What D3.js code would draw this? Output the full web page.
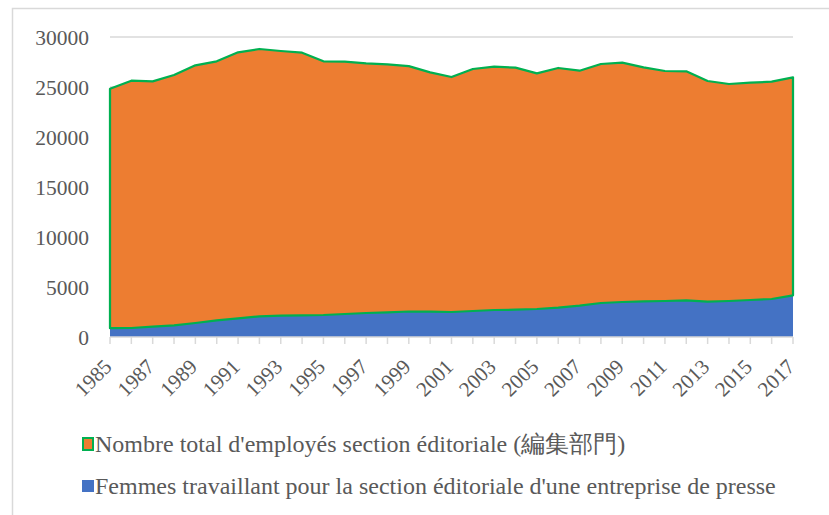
<!DOCTYPE html>
<html lang="fr">
  <head>
    <meta charset="utf-8">
    <title>Employés section éditoriale</title>
    <style>
      body {
        margin: 0;
        background: #fff;
      }
    </style>
  </head>
  <body>
    <svg id="chart" width="829" height="515" font-family="'Liberation Serif', 'Times New Roman', serif"></svg>

    <script src="https://d3js.org/d3.v7.min.js"></script>
    <script>
      // years 1985..2017
      const years = [1985, 1986, 1987, 1988, 1989, 1990, 1991, 1992, 1993, 1994, 1995,
        1996, 1997, 1998, 1999, 2000, 2001, 2002, 2003, 2004, 2005, 2006,
        2007, 2008, 2009, 2010, 2011, 2012, 2013, 2014, 2015, 2016, 2017];

      // total editorial staff
      const totalStaff = [24830, 25630, 25570, 26200, 27170, 27570, 28470, 28800, 28600, 28430, 27570,
        27530, 27370, 27270, 27080, 26470, 26000, 26800, 27030, 26930, 26370, 26900,
        26630, 27300, 27430, 26970, 26600, 26570, 25600, 25300, 25430, 25530, 25970];

      // women in editorial section
      const womenStaff = [880, 900, 1030, 1170, 1400, 1670, 1870, 2070, 2130, 2170, 2200,
        2300, 2400, 2470, 2550, 2530, 2500, 2600, 2700, 2730, 2800, 2930,
        3130, 3400, 3500, 3570, 3600, 3670, 3530, 3600, 3700, 3800, 4170];

      const yTicks = [0, 5000, 10000, 15000, 20000, 25000, 30000];
      const xTicks = years.filter((y, i) => i % 2 === 0);

      const legendLabels = [
        "Nombre total d'employés section éditoriale (編集部門)",
        "Femmes travaillant pour la section éditoriale d'une entreprise de presse"
      ];

      const orange = "#ed7d31", blue = "#4472c4", green = "#00b050", grid = "#d9d9d9", ink = "#595959";

      const svg = d3.select("#chart");

      // chart frame (only top and left edges visible)
      svg.append("rect")
        .attr("x", 12.5).attr("y", 8.5)
        .attr("width", 900).attr("height", 600)
        .attr("fill", "none").attr("stroke", grid).attr("stroke-width", 1.5);

      const x = d3.scaleLinear().domain([1985, 2017]).range([110, 793]);
      const y = d3.scaleLinear().domain([0, 30000]).range([337, 37]);

      const data = years.map((yr, i) => ({year: yr, total: totalStaff[i], women: womenStaff[i]}));

      // gridlines
      svg.append("g")
        .selectAll("line").data(yTicks.filter(t => t > 0)).enter().append("line")
        .attr("x1", x(1985)).attr("x2", x(2017))
        .attr("y1", d => y(d)).attr("y2", d => y(d))
        .attr("stroke", grid).attr("stroke-width", 1.5);

      // women area
      const womenArea = d3.area().x(d => x(d.year)).y0(y(0)).y1(d => y(d.women));
      svg.append("path").datum(data)
        .attr("d", womenArea)
        .attr("fill", blue);

      // total area, sitting on the women area
      const totalArea = d3.area().x(d => x(d.year)).y0(d => y(d.women)).y1(d => y(d.total));
      svg.append("path").datum(data)
        .attr("d", totalArea)
        .attr("fill", orange)
        .attr("stroke", green).attr("stroke-width", 2.25)
        .attr("stroke-linejoin", "round");

      // y axis labels
      svg.append("g")
        .selectAll("text").data(yTicks).enter().append("text")
        .attr("x", 89).attr("y", d => y(d))
        .attr("dy", "0.35em")
        .attr("text-anchor", "end")
        .attr("fill", ink)
        .style("font-size", "21.5px")
        .text(d => d);

      // x axis
      const xAxis = svg.append("g").attr("transform", `translate(0,${y(0)})`);
      xAxis.append("line")
        .attr("x1", x(1985)).attr("x2", x(2017))
        .attr("stroke", grid).attr("stroke-width", 1.5);
      xAxis.selectAll(".tick").data(years).enter().append("line")
        .attr("x1", d => x(d)).attr("x2", d => x(d))
        .attr("y1", 0).attr("y2", 7)
        .attr("stroke", grid).attr("stroke-width", 1.5);
      xAxis.selectAll("text").data(xTicks).enter().append("text")
        .attr("transform", d => `translate(${x(d) + 3},${31}) rotate(-45)`)
        .attr("text-anchor", "end")
        .attr("fill", ink)
        .style("font-size", "21px")
        .text(d => d);

      // legend
      const legend = svg.append("g");
      legend.append("rect")
        .attr("x", 83).attr("y", 438).attr("width", 10).attr("height", 12)
        .attr("fill", orange).attr("stroke", green).attr("stroke-width", 2);
      legend.append("rect")
        .attr("x", 82).attr("y", 480).attr("width", 12).attr("height", 12)
        .attr("fill", blue);
      legend.selectAll("text").data(legendLabels).enter().append("text")
        .attr("x", 95).attr("y", (d, i) => 452 + i * 42)
        .attr("fill", ink)
        .style("font-size", "24px")
        .text(d => d);
    </script>
  </body>
</html>
